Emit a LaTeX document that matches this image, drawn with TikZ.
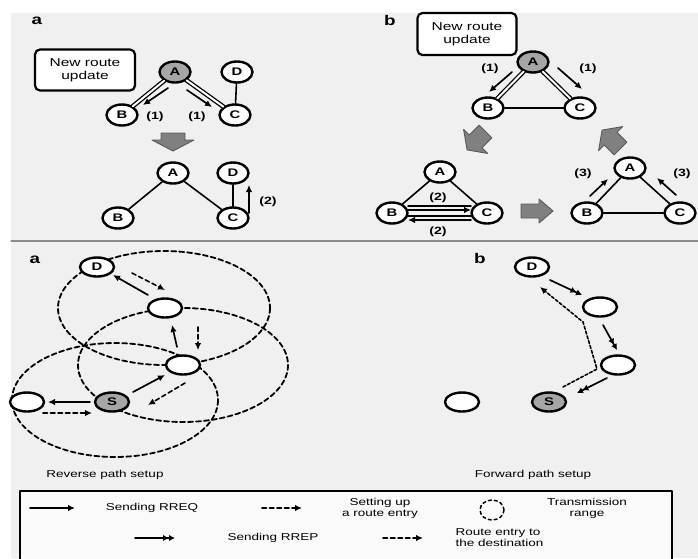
\documentclass[tikz,border=0pt]{standalone}
\usepackage{fontspec}
\setmainfont{Liberation Sans}[FakeStretch=1.35]
\usetikzlibrary{shapes.geometric,arrows.meta}

\begin{document}
\begin{tikzpicture}[x=1pt,y=-1pt,line join=round,line cap=round,
    font=\fontsize{10}{11}\selectfont,
    nodo/.style={ellipse,draw,line width=2.4pt,fill=white,inner sep=0pt,
      minimum width=31pt,minimum height=21pt,font=\fontsize{11}{12}\selectfont\bfseries},
    nodog/.style={nodo,fill=black!35},
    nodob/.style={nodo,minimum width=34pt,minimum height=19pt},
    nodobg/.style={nodob,fill=black!35},
    arco/.style={line width=1.6pt},
    arcod/.style={line width=1.3pt,double,double distance=2pt},
    freccia/.style={line width=1.7pt,-{Latex[length=7pt,width=6.5pt]}},
    tratt/.style={line width=1.6pt,dash pattern=on 4.5pt off 3pt,-{Latex[length=7pt,width=6.5pt]}},
    rrep/.style={line width=1.7pt,-{Latex[length=6pt,width=6.5pt]Latex[length=6pt,width=6.5pt]}},
    raggio/.style={line width=1.8pt,dash pattern=on 5pt off 3pt},
    etic/.style={font=\fontsize{10.5}{12}\selectfont\bfseries,inner sep=1pt},
    lettera/.style={font=\fontsize{14}{15}\selectfont\bfseries,inner sep=0pt},
    avviso/.style={draw,line width=2.2pt,rounded corners=5pt,fill=white,
      minimum width=100pt,minimum height=41pt,align=center,
      font=\fontsize{11.5}{12.5}\selectfont},
    blocco/.style={draw=black!65,fill=black!50,line width=0.9pt}]

  % sfondo
  \useasboundingbox (0,0) rectangle (698,558);
  \fill[white] (0,0) rectangle (698,558);
  \fill[black!6] (11,13) rectangle (698,558);
  \draw[black!45,line width=1.2pt] (11,241) -- (698,241);

  % ======================= pannello a in alto ===================
  \node[lettera] (la) at (37,21) {a};
  \node[avviso] (nra) at (85,70) {New route\\update};
  \node[nodog] (A)  at (175, 72) {A};
  \node[nodo]  (D)  at (237, 72) {D};
  \node[nodo]  (B)  at (122,115) {B};
  \node[nodo]  (C)  at (235,115) {C};
  \draw[arcod] (A) -- (B)  (A) -- (C);
  \draw[arco]  (C) -- (D);
  \coordinate (p1) at (168, 88);  \coordinate (q1) at (143,105);
  \coordinate (p2) at (187, 90);  \coordinate (q2) at (212,107);
  \draw[freccia] (p1) -- (q1);
  \draw[freccia] (p2) -- (q2);
  \node[etic] (e1) at (155,117) {(1)};
  \node[etic] (e2) at (197,117) {(1)};

  \draw[blocco,shift={(173,142)},rotate=-90]
    (-9,-12) -- (-2,-12) -- (-2,-21) -- (9,0) -- (-2,21) -- (-2,12) -- (-9,12) -- cycle;

  \node[nodo] (A2) at (173,173) {A};
  \node[nodo] (D2) at (233,173) {D};
  \node[nodo] (B2) at (118,218) {B};
  \node[nodo] (C2) at (233,218) {C};
  \draw[arco] (A2) -- (B2)  (A2) -- (C2)  (C2) -- (D2);
  \coordinate (p3) at (249,213);  \coordinate (q3) at (249,185);
  \draw[freccia] (p3) -- (q3);
  \node[etic] (e3) at (268,202) {(2)};

  % ======================= pannello b in alto ===================
  \node[lettera] (lb) at (390,20) {b};
  \node[avviso,minimum width=99pt,minimum height=42pt] (nrb) at (467,34) {New route\\update};
  \node[nodog] (tA) at (533, 62) {A};
  \node[nodo]  (tB) at (488,108) {B};
  \node[nodo]  (tC) at (580,108) {C};
  \draw[arcod] (tA) -- (tB)  (tA) -- (tC);
  \draw[arco]  (tB) -- (tC);
  \coordinate (p4) at (512, 72);  \coordinate (q4) at (489, 92);
  \coordinate (p5) at (558, 68);  \coordinate (q5) at (582, 89);
  \draw[freccia] (p4) -- (q4);
  \draw[freccia] (p5) -- (q5);
  \node[etic] (e4) at (490,69) {(1)};
  \node[etic] (e5) at (588,69) {(1)};

  \draw[blocco,shift={(477,140)},rotate=-135]
    (-12,-9) -- (2,-9) -- (2,-17) -- (14,0) -- (2,17) -- (2,9) -- (-12,9) -- cycle;
  \draw[blocco,shift={(612,140)},rotate=135]
    (-12,-9) -- (2,-9) -- (2,-17) -- (14,0) -- (2,17) -- (2,9) -- (-12,9) -- cycle;
  \draw[blocco,shift={(537,211)}]
    (-16,-7) -- (2,-7) -- (2,-12) -- (16,0) -- (2,12) -- (2,7) -- (-16,7) -- cycle;

  % triangolo in basso a sinistra
  \node[nodo] (sA) at (440,172) {A};
  \node[nodo] (sB) at (392,213) {B};
  \node[nodo] (sC) at (487,213) {C};
  \draw[arco] (sA) -- (sB)  (sA) -- (sC);
  \coordinate (p6) at (408,206);  \coordinate (q6) at (471,206);
  \coordinate (p7) at (408,210);  \coordinate (q7) at (471,210);
  \coordinate (p8) at (471,216);  \coordinate (q8) at (408,216);
  \coordinate (p9) at (471,220);  \coordinate (q9) at (408,220);
  \draw[arco] (p6) -- (q6)  (p8) -- (q8);
  \draw[freccia] (p7) -- (q7);
  \draw[freccia] (p9) -- (q9);
  \node[etic] (e6) at (438,198) {(2)};
  \node[etic] (e7) at (438,232) {(2)};

  % triangolo in basso a destra
  \node[nodo] (dA) at (630,168) {A};
  \node[nodo] (dB) at (587,213) {B};
  \node[nodo] (dC) at (680,213) {C};
  \draw[arco] (dA) -- (dB)  (dA) -- (dC)  (dB) -- (dC);
  \coordinate (p10) at (590,196);  \coordinate (q10) at (608,179);
  \coordinate (p11) at (676,195);  \coordinate (q11) at (657,178);
  \draw[freccia] (p10) -- (q10);
  \draw[freccia] (p11) -- (q11);
  \node[etic] (e8) at (583,174) {(3)};
  \node[etic] (e9) at (682,174) {(3)};

  % ======================= pannello a in basso: percorso inverso ===================
  \node[lettera] (la2) at (35,260) {a};
  \draw[raggio] (164,308) ellipse [x radius=106,y radius=57];
  \draw[raggio] (183,365) ellipse [x radius=105,y radius=57];
  \draw[raggio] (115,400) ellipse [x radius=103,y radius=57];
  \node[nodob]   (rD) at ( 97,267) {D};
  \node[nodob]   (r1) at (165,308) {};
  \node[nodob]   (r2) at (183,365) {};
  \node[nodobg]  (rS) at (112,402) {S};
  \node[nodob]   (r3) at ( 27,402) {};

  \coordinate (a1) at (148,295);  \coordinate (b1) at (113,275);
  \coordinate (a2) at (132,273);  \coordinate (b2) at (165,290);
  \coordinate (a3) at (177,347);  \coordinate (b3) at (172,325);
  \coordinate (a4) at (198,327);  \coordinate (b4) at (198,350);
  \coordinate (a5) at (133,392);  \coordinate (b5) at (165,375);
  \coordinate (a6) at (185,383);  \coordinate (b6) at (148,405);
  \coordinate (a7) at ( 90,402);  \coordinate (b7) at ( 48,402);
  \coordinate (a8) at ( 43,413);  \coordinate (b8) at ( 92,413);
  \draw[freccia] (a1) -- (b1);
  \draw[tratt]   (a2) -- (b2);
  \draw[freccia] (a3) -- (b3);
  \draw[tratt]   (a4) -- (b4);
  \draw[freccia] (a5) -- (b5);
  \draw[tratt]   (a6) -- (b6);
  \draw[freccia] (a7) -- (b7);
  \draw[tratt]   (a8) -- (b8);
  \node (cap1) at (105,475) {Reverse path setup};

  % ======================= pannello b in basso: percorso diretto ===================
  \node[lettera] (lb2) at (480,258) {b};
  \node[nodob]   (fD) at (532,267) {D};
  \node[nodob]   (f1) at (600,307) {};
  \node[nodob]   (f2) at (618,365) {};
  \node[nodobg]  (fS) at (549,402) {S};
  \node[nodob]   (f3) at (462,402) {};

  \coordinate (c1) at (550,280);  \coordinate (d1) at (582,295);
  \coordinate (c2) at (603,325);  \coordinate (d2) at (617,350);
  \coordinate (c3) at (607,378);  \coordinate (d3) at (577,393);
  \draw[rrep] (c1) -- (d1);
  \draw[rrep] (c2) -- (d2);
  \draw[rrep] (c3) -- (d3);
  \coordinate (g1) at (563,387);  \coordinate (g2) at (597,369);
  \coordinate (g3) at (583,322);  \coordinate (g4) at (540,287);
  \draw[tratt,dash pattern=on 3pt off 2pt] (g1) -- (g2) -- (g3) -- (g4);
  \node (cap2) at (533,475) {Forward path setup};

  % ======================= legenda ===================
  \draw[line width=1.8pt,fill=black!2] (20,491) rectangle (672,562);
  \coordinate (l1a) at ( 30,508);  \coordinate (l1b) at ( 75,508);
  \coordinate (l2a) at (262,508);  \coordinate (l2b) at (302,508);
  \coordinate (l3a) at (135,538);  \coordinate (l3b) at (175,538);
  \coordinate (l4a) at (383,538);  \coordinate (l4b) at (423,538);
  \draw[freccia] (l1a) -- (l1b);
  \draw[tratt]   (l2a) -- (l2b);
  \draw[rrep]    (l3a) -- (l3b);
  \draw[tratt]   (l4a) -- (l4b);
  \draw[raggio,line width=1.5pt,dash pattern=on 3pt off 3pt] (492,510) ellipse [x radius=12,y radius=10];
  \node (t1) at (152,508) {Sending RREQ};
  \node[align=center] (t2) at (380,508) {Setting up\\a route entry};
  \node[align=center] (t3) at (587,508) {Transmission\\range};
  \node (t4) at (273,538) {Sending RREP};
  \node[align=left,anchor=west] (t5) at (452,538) {Route entry to\\the destination};

\end{tikzpicture}
\end{document}
